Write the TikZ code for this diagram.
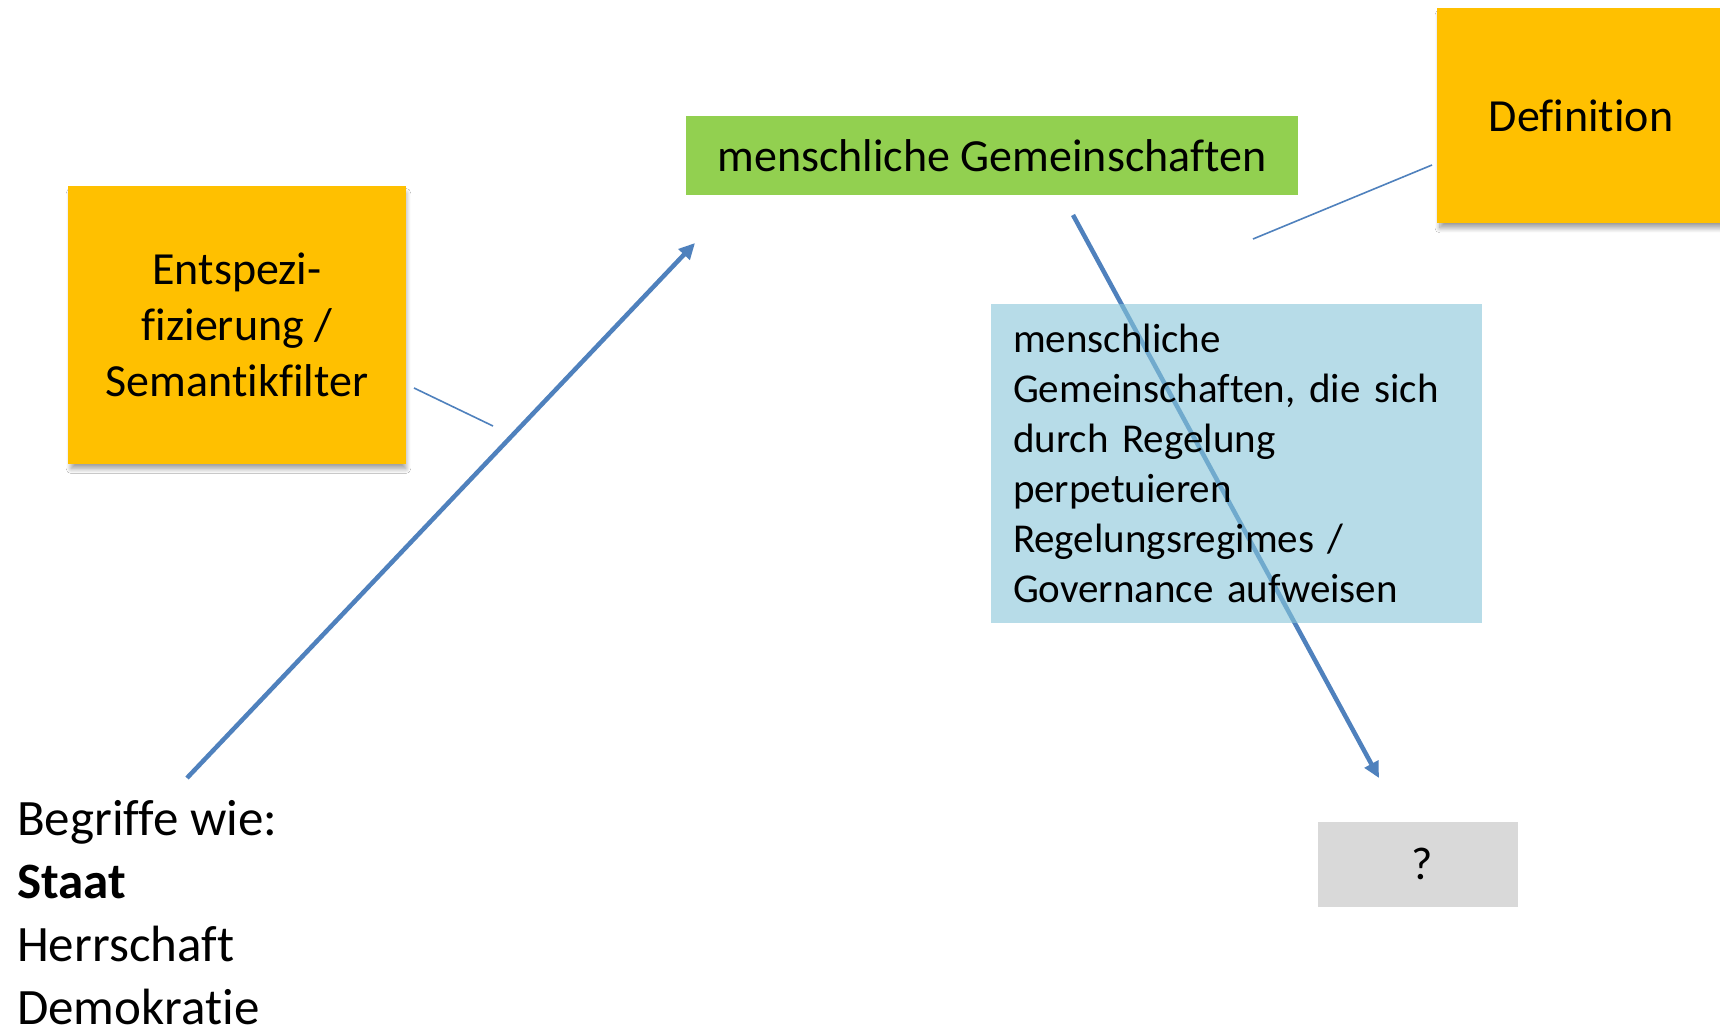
\documentclass[tikz,border=0pt]{standalone}
\usepackage{fontspec}
\setmainfont{Carlito}[Ligatures={NoCommon,NoContextual,NoRare}]
\usetikzlibrary{arrows.meta,shadows.blur}
\definecolor{orng}{HTML}{FFC000}
\definecolor{grn}{HTML}{92D050}
\definecolor{lblue}{RGB}{135,198,217}
\definecolor{gry}{HTML}{D9D9D9}
\definecolor{lineblue}{HTML}{4F81BD}
\begin{document}
\begin{tikzpicture}[x=1pt,y=-1pt,
  box/.style={rectangle, inner sep=0pt, anchor=center, text=black},
  obox/.style={box, fill=orng, blur shadow={shadow xshift=1.5pt, shadow yshift=-6pt, shadow blur radius=5pt, shadow blur steps=12, shadow opacity=40, shadow scale=0.99}},
  arr/.style={draw=lineblue, line width=4.5pt, -{Triangle[length=16pt,width=15pt]}},
  thin/.style={draw=lineblue, line width=1.6pt},
  f46/.style={font=\fontsize{46}{56}\selectfont}
]
\useasboundingbox[fill=white] (0,0) rectangle (1720,1032);

% arrow 2 first, under the semi-transparent blue box
\coordinate (b1) at (1073,215);
\coordinate (b2) at (1379,778);
\draw[arr] (b1) -- (b2);

\node[box, fill=lblue, fill opacity=0.6, text opacity=1, minimum width=491pt, minimum height=319pt,
      text width=447pt, align=left, font=\fontsize{41}{50}\selectfont] (def2) at (1236.5,463.5)
  {menschliche\\Gemeinschaften, die sich\\durch Regelung\\perpetuieren\\Regelungsregimes /\\Governance aufweisen};

\node[obox, minimum width=338pt, minimum height=278pt, align=center, f46] (ent) at (237,325)
  {Entspezi-\\fizierung /\\Semantikfilter};

\node[obox, minimum width=288pt, minimum height=215pt, f46] (def) at (1581,115.5) {Definition};

\node[box, fill=grn, minimum width=612pt, minimum height=79pt, f46] (mg) at (992,155.5)
  {menschliche Gemeinschaften};

\node[box, fill=gry, minimum width=200pt, minimum height=85pt, f46] (q) at (1418,864) {\hspace*{8pt}?};

\node[inner sep=0pt, anchor=north west, align=left, font=\fontsize{51}{63}\selectfont] (begr) at (17,800)
  {Begriffe wie:\\\textbf{Staat}\\Herrschaft\\Demokratie};

\coordinate (a1) at (187,778);
\coordinate (a2) at (695,243);
\draw[arr] (a1) -- (a2);

\coordinate (t1a) at (414,388);
\coordinate (t1b) at (493,426);
\draw[thin] (t1a) -- (t1b);
\coordinate (t2a) at (1253,239);
\coordinate (t2b) at (1432,165);
\draw[thin] (t2a) -- (t2b);
\end{tikzpicture}
\end{document}
